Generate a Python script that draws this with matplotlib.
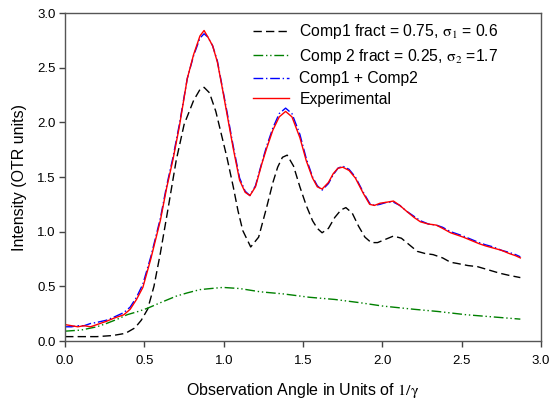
import matplotlib
matplotlib.use("Agg")
import matplotlib.pyplot as plt

plt.rcParams["font.family"] = ["Liberation Sans", "DejaVu Sans"]
plt.rcParams["mathtext.fontset"] = "stix"

# ---- data ----
comp1_x = [0.0, 0.10, 0.20, 0.30, 0.38, 0.44, 0.48, 0.52, 0.56, 0.60, 0.65, 0.70,
           0.75, 0.81, 0.85, 0.876, 0.91, 0.95, 0.98, 1.02, 1.06, 1.09, 1.12, 1.17,
           1.22, 1.27, 1.31, 1.34, 1.37, 1.40, 1.44, 1.48, 1.52, 1.56, 1.59, 1.62,
           1.66, 1.70, 1.74, 1.77, 1.81, 1.85, 1.89, 1.93, 1.97, 2.02, 2.07, 2.12,
           2.17, 2.22, 2.27, 2.32, 2.38, 2.43, 2.47, 2.54, 2.60, 2.67, 2.74, 2.80, 2.87]
comp1_y = [0.04, 0.04, 0.04, 0.05, 0.07, 0.12, 0.19, 0.29, 0.50, 0.80, 1.22, 1.65,
           1.98, 2.20, 2.30, 2.32, 2.27, 2.10, 1.92, 1.68, 1.41, 1.19, 1.01, 0.86,
           0.95, 1.22, 1.45, 1.59, 1.68, 1.70, 1.60, 1.41, 1.24, 1.10, 1.03, 0.99,
           1.03, 1.13, 1.20, 1.22, 1.17, 1.05, 0.95, 0.90, 0.90, 0.93, 0.96, 0.94,
           0.88, 0.82, 0.80, 0.79, 0.76, 0.72, 0.71, 0.69, 0.68, 0.65, 0.62, 0.60, 0.58]

comp2_x = [0.0, 0.10, 0.20, 0.26, 0.33, 0.39, 0.46, 0.52, 0.60, 0.70, 0.77, 0.85,
           0.92, 0.995, 1.10, 1.23, 1.38, 1.54, 1.70, 1.86, 2.00, 2.20, 2.35, 2.53,
           2.70, 2.87]
comp2_y = [0.09, 0.10, 0.13, 0.16, 0.20, 0.24, 0.27, 0.30, 0.35, 0.41, 0.44, 0.47,
           0.48, 0.49, 0.48, 0.45, 0.43, 0.40, 0.38, 0.35, 0.32, 0.29, 0.27, 0.24,
           0.22, 0.20]

exp_x = [0.0, 0.04, 0.08, 0.12, 0.16, 0.20, 0.26, 0.31, 0.37, 0.41, 0.45, 0.49,
         0.54, 0.60, 0.64, 0.68, 0.72, 0.77, 0.81, 0.85, 0.876, 0.90, 0.93, 0.96,
         0.99, 1.02, 1.06, 1.10, 1.135, 1.165, 1.20, 1.24, 1.27, 1.31, 1.35, 1.39,
         1.43, 1.48, 1.52, 1.56, 1.59, 1.62, 1.66, 1.69, 1.72, 1.75, 1.79, 1.83,
         1.88, 1.92, 1.95, 1.985, 2.03, 2.07, 2.11, 2.15, 2.20, 2.24, 2.29, 2.34,
         2.38, 2.43, 2.47, 2.51, 2.56, 2.61, 2.65, 2.70, 2.75, 2.80, 2.84, 2.87]
exp_y = [0.15, 0.14, 0.13, 0.14, 0.13, 0.15, 0.18, 0.21, 0.24, 0.29, 0.38, 0.49,
         0.75, 1.10, 1.40, 1.66, 1.96, 2.40, 2.62, 2.79, 2.84, 2.78, 2.70, 2.55,
         2.32, 2.08, 1.76, 1.47, 1.36, 1.33, 1.41, 1.62, 1.76, 1.93, 2.05, 2.10,
         2.05, 1.86, 1.65, 1.49, 1.41, 1.39, 1.45, 1.53, 1.58, 1.59, 1.56, 1.49,
         1.35, 1.25, 1.24, 1.26, 1.27, 1.28, 1.24, 1.19, 1.13, 1.09, 1.07, 1.06,
         1.03, 0.99, 0.97, 0.95, 0.92, 0.89, 0.87, 0.85, 0.83, 0.80, 0.78, 0.76]

sum_x = exp_x
sum_y = [0.13, 0.13, 0.14, 0.14, 0.16, 0.17, 0.19, 0.22, 0.26, 0.31, 0.40, 0.52,
         0.77, 1.12, 1.42, 1.68, 1.98, 2.40, 2.61, 2.77, 2.81, 2.78, 2.70, 2.56,
         2.33, 2.10, 1.78, 1.49, 1.37, 1.33, 1.42, 1.63, 1.78, 1.95, 2.08, 2.13,
         2.08, 1.89, 1.67, 1.50, 1.42, 1.38, 1.44, 1.52, 1.58, 1.60, 1.57, 1.50,
         1.36, 1.26, 1.24, 1.25, 1.27, 1.27, 1.24, 1.19, 1.14, 1.10, 1.07, 1.06,
         1.04, 1.00, 0.98, 0.96, 0.93, 0.90, 0.88, 0.86, 0.83, 0.81, 0.79, 0.77]

labels = [r"Comp1 fract = 0.75, $\mathrm{\sigma}_1$ = 0.6",
          r"Comp 2 fract = 0.25, $\mathrm{\sigma}_2$ =1.7",
          "Comp1 + Comp2",
          "Experimental"]


def main():
    fig = plt.figure(figsize=(5.52, 4.0), dpi=100)
    ax = fig.add_axes([0.118, 0.1475, 0.862, 0.82])

    ax.plot(comp1_x, comp1_y, color="black", lw=1.0, ls=(0, (6, 3)), label=labels[0])
    ax.plot(comp2_x, comp2_y, color="#008000", lw=1.0,
            ls=(0, (7, 2, 1, 2, 1, 2)), label=labels[1])
    ax.plot(sum_x, sum_y, color="blue", lw=1.0, ls=(0, (7, 2, 1, 2)), label=labels[2])
    ax.plot(exp_x, exp_y, color="red", lw=1.0, label=labels[3])

    ax.set_xlim(0, 3.0)
    ax.set_ylim(0, 3.0)
    ax.set_xticks([0.0, 0.5, 1.0, 1.5, 2.0, 2.5, 3.0])
    ax.set_yticks([0.0, 0.5, 1.0, 1.5, 2.0, 2.5, 3.0])
    ax.set_xticklabels([f"{v:.1f}" for v in ax.get_xticks()])
    ax.set_yticklabels([f"{v:.1f}" for v in ax.get_yticks()])
    ax.tick_params(direction="out", length=4, width=1, labelsize=9.5,
                   color="#444444")
    ax.tick_params(axis="x", pad=6)
    ax.tick_params(axis="y", pad=3)
    for s in ax.spines.values():
        s.set_color("#555555")
        s.set_linewidth(1.0)

    ax.set_xlabel(r"Observation Angle in Units of $\mathrm{1/\gamma}$", fontsize=11.5,
                  labelpad=10)
    ax.set_ylabel("Intensity (OTR units)", fontsize=11.5, labelpad=7)

    ax.legend(loc="upper left", bbox_to_anchor=(0.395, 0.972), frameon=False,
              fontsize=11.3, handlelength=2.3, handletextpad=0.65, labelspacing=0.35,
              borderpad=0, borderaxespad=0)

    fig.savefig("out.png", dpi=100)
    plt.close(fig)


if __name__ == "__main__":
    main()
